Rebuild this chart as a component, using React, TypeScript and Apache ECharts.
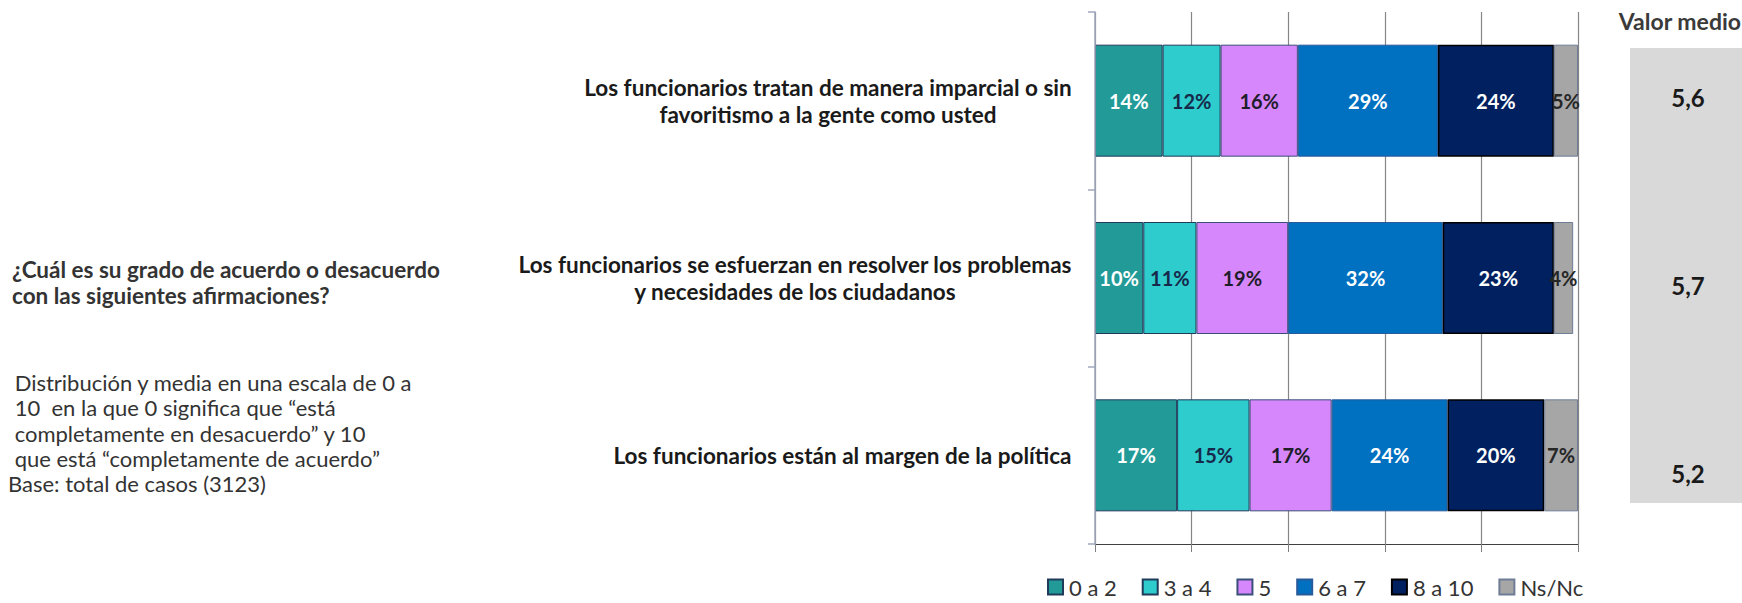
import React, { useEffect, useRef } from "react";
import * as echarts from "echarts";

const categories = [
  "Los funcionarios tratan de manera imparcial o sin\nfavoritismo a la gente como usted",
  "Los funcionarios se esfuerzan en resolver los problemas\ny necesidades de los ciudadanos",
  "Los funcionarios están al margen de la política",
];
const seriesNames = ["0 a 2", "3 a 4", "5", "6 a 7", "8 a 10", "Ns/Nc"];
const v0a2 = [14, 10, 17];
const v3a4 = [12, 11, 15];
const v5 = [16, 19, 17];
const v6a7 = [29, 32, 24];
const v8a10 = [24, 23, 20];
const vNsNc = [5, 4, 7];
const meanValues = ["5,6", "5,7", "5,2"];
const xTicks = [0, 20, 40, 60, 80, 100];

const seriesValues = [v0a2, v3a4, v5, v6a7, v8a10, vNsNc];
const colors = ["#229B98", "#2ECCCC", "#D787FC", "#0070C0", "#002060", "#A6A6A6"];
const borders = ["#1F3A5A", "#1F3A5A", "#3A4E7A", "#2A5A9A", "#000000", "#6F7C96"];
const labelColors = ["#FFFFFF", "#17294A", "#1E1E2A", "#FFFFFF", "#FFFFFF", "#262626"];

const FONT = "Lato, 'Open Sans', sans-serif";

function measure(text: string, font: string): number {
  const c = document.createElement("canvas");
  const ctx = c.getContext("2d");
  if (!ctx) return text.length * 11;
  ctx.font = font;
  return ctx.measureText(text).width;
}

export default function App() {
  const ref = useRef<HTMLDivElement>(null);
  useEffect(() => {
    document.body.style.margin = "0";
    if (!ref.current) return;
    const chart = echarts.init(ref.current, undefined, { renderer: "svg" });

    const catFontSize = 22.5;
    const rich: Record<string, any> = {};
    categories.forEach((c, i) => {
      const w = Math.max(
        ...c.split("\n").map((l) => measure(l, `bold ${catFontSize}px Lato`))
      );
      rich["c" + i] = {
        width: Math.ceil(w) + 2,
        align: "center",
        fontFamily: FONT,
        fontWeight: "bold",
        fontSize: catFontSize,
        lineHeight: 27,
        color: "#1A1A1A",
      };
    });

    const leftTextStyle = { fontFamily: FONT, fill: "#333333" };

    const option: any = {
      animation: false,
      grid: { left: 1095, top: 12, width: 483, height: 532 },
      legend: {
        left: 1047,
        top: 576,
        padding: 0,
        itemWidth: 15,
        itemHeight: 15,
        itemGap: 25,
        icon: "rect",
        textStyle: {
          fontFamily: FONT,
          fontSize: 22,
          lineHeight: 22,
          color: "#333333",
          padding: [0, 0, 0, 1],
        },
        data: seriesNames,
      },
      xAxis: {
        type: "value",
        min: xTicks[0],
        max: xTicks[xTicks.length - 1],
        interval: xTicks[1] - xTicks[0],
        axisLabel: { show: false },
        axisLine: { show: true, lineStyle: { color: "#404040", width: 1 } },
        axisTick: { show: true, length: 8, lineStyle: { color: "#7F7F7F" } },
        splitLine: { show: true, lineStyle: { color: "#868686", width: 1.2 } },
      },
      yAxis: {
        type: "category",
        inverse: true,
        data: categories,
        axisLine: { show: true, lineStyle: { color: "#A0A8BE", width: 1.5 } },
        axisTick: { show: true, length: 7, lineStyle: { color: "#A0A8BE", width: 1.5 } },
        axisLabel: {
          margin: 22,
          align: "right",
          formatter: (value: string, idx: number) =>
            value
              .split("\n")
              .map((l) => `{c${idx}|${l}}`)
              .join("\n"),
          rich,
        },
        z: 3,
      },
      series: seriesNames.map((name, i) => ({
        name,
        type: "bar",
        stack: "total",
        barWidth: 112,
        data: seriesValues[i],
        itemStyle: {
          color: colors[i],
          borderColor: borders[i],
          borderWidth: i === 4 ? 1.5 : 1,
        },
        label: {
          show: true,
          position: "inside",
          formatter: (p: any) => `${Math.round(p.value)}%`,
          fontFamily: FONT,
          fontWeight: "bold",
          fontSize: 20,
          color: labelColors[i],
        },
      })),
      graphic: [
        {
          type: "rect",
          shape: { x: 1630, y: 48, width: 112, height: 455 },
          style: { fill: "#D9D9D9" },
          z: -1,
        },
        {
          type: "text",
          x: 1741,
          y: 21,
          style: {
            text: "Valor medio",
            fontFamily: FONT,
            fontWeight: "bold",
            fontSize: 23,
            fill: "#3A3A3A",
            align: "right",
            verticalAlign: "middle",
          },
        },
        ...meanValues.map((m, i) => ({
          type: "text",
          x: 1688,
          y: [97, 285, 473][i],
          style: {
            text: m,
            fontFamily: FONT,
            fontWeight: "bold",
            fontSize: 24,
            fill: "#1A1A1A",
            align: "center",
            verticalAlign: "middle",
          },
        })),
        {
          type: "text",
          x: 12,
          y: 256,
          style: {
            text: "¿Cuál es su grado de acuerdo o desacuerdo\ncon las siguientes afirmaciones?",
            ...leftTextStyle,
            fontWeight: "bold",
            fontSize: 22.5,
            lineHeight: 26,
          },
        },
        {
          type: "text",
          x: 9,
          y: 370,
          style: {
            text:
              " Distribución y media en una escala de 0 a\n 10  en la que 0 significa que “está\n completamente en desacuerdo” y 10\n que está “completamente de acuerdo”",
            ...leftTextStyle,
            fontSize: 22,
            lineHeight: 25.3,
          },
        },
        {
          type: "text",
          x: 8,
          y: 471,
          style: {
            text: "Base: total de casos (3123)",
            ...leftTextStyle,
            fontSize: 22,
            lineHeight: 25.3,
          },
        },
      ],
    };
    chart.setOption(option);
    return () => chart.dispose();
  }, []);
  return <div ref={ref} style={{ width: 1742, height: 603 }} />;
}
